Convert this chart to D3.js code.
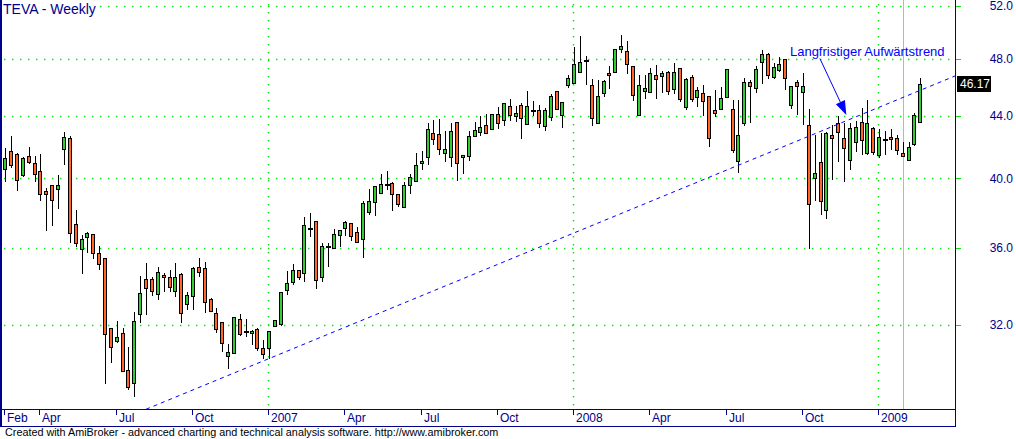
<!DOCTYPE html>
<html><head><meta charset="utf-8">
<script src="https://cdn.jsdelivr.net/npm/d3@7"></script>
<style>html,body{margin:0;padding:0;background:#fff;} svg{display:block;}</style>
</head><body>
<svg id="chart" width="1016" height="439"></svg>
<script>
// ---- data (weekly bars, dated by week's last trading day) ----
const firstWeek = "2006-02-24";
const opens = [40.56,41.69,41.50,40.23,41.37,40.93,40.44,39.24,39.58,39.34,41.81,42.52,37.31,35.91,36.60,36.74,35.69,35.42,31.84,31.24,
31.60,29.88,29.31,32.52,34.30,34.30,33.57,34.53,34.43,33.71,34.61,33.02,33.44,34.94,34.88,33.27,32.57,32.13,30.52,30.65,
32.28,31.73,31.60,31.79,30.89,30.89,31.96,32.05,33.77,34.18,34.77,34.63,37.10,37.47,34.45,36.09,35.99,36.72,37.12,37.35,
36.85,36.46,38.02,38.57,39.10,39.65,39.71,39.04,38.27,39.58,39.84,40.95,41.30,42.85,42.78,41.56,41.34,43.59,41.30,41.40,
42.67,42.95,43.37,43.10,44.11,43.75,44.66,44.01,44.73,43.44,44.39,44.39,43.35,43.95,45.69,44.04,46.10,46.23,47.06,47.90,
46.10,43.54,45.53,46.97,47.01,48.68,48.55,47.47,44.03,45.67,45.60,46.80,46.75,47.04,45.81,47.32,44.57,46.67,45.26,45.53,
45.35,44.39,44.43,45.26,44.43,41.06,43.55,46.29,45.89,47.75,48.37,46.71,47.18,47.95,44.73,46.29,45.64,43.39,40.01,41.01,
38.12,42.74,43.50,42.52,41.14,42.27,43.57,41.56,43.17,41.45,42.48,42.62,42.52,41.56,41.14,42.16,43.57];
const highs = [41.87,42.67,41.55,41.30,41.93,41.39,41.52,39.40,39.60,40.21,42.91,42.67,38.12,36.71,36.85,36.76,36.09,35.45,31.86,32.21,
31.84,30.97,32.66,34.50,35.15,34.43,34.94,34.62,34.79,35.15,34.63,33.65,34.94,35.42,35.21,33.32,32.82,32.15,31.10,32.40,
32.53,32.28,31.74,31.87,31.28,31.72,32.26,33.66,34.74,35.10,34.79,37.70,37.93,37.49,36.24,36.24,37.03,36.98,37.51,37.37,
37.13,38.67,39.36,39.54,40.27,40.46,39.80,39.06,39.80,40.27,41.56,41.70,43.50,43.72,43.79,42.97,43.50,43.61,41.45,42.97,
43.56,44.00,44.11,44.13,44.57,44.86,45.14,44.68,44.84,45.69,45.00,44.73,44.51,45.49,45.71,44.95,46.82,48.85,49.68,48.19,
46.51,46.46,46.46,47.47,48.72,49.76,49.31,47.49,46.82,46.82,47.32,47.54,47.07,47.11,47.66,47.34,46.58,46.82,45.95,46.10,
45.37,45.76,45.99,47.24,45.07,45.07,46.64,46.46,47.43,48.66,48.39,47.69,48.14,47.97,46.06,46.46,46.97,44.45,42.74,42.85,
42.91,43.39,43.99,43.55,43.55,43.62,44.51,45.07,43.24,43.10,43.00,43.10,42.74,42.27,42.31,44.18,46.64];
const lows = [39.80,40.62,39.26,40.10,40.90,39.80,38.67,36.94,37.22,38.20,40.83,36.27,36.05,34.61,35.70,35.37,34.79,29.27,30.22,31.14,
29.83,28.99,28.67,32.11,32.50,33.45,33.24,33.66,33.66,33.37,32.11,32.74,32.74,34.43,32.60,32.62,31.60,30.70,29.91,30.63,
31.47,31.44,31.05,30.74,30.38,30.38,31.92,31.97,33.52,34.00,34.27,34.15,36.60,33.80,34.17,34.97,35.94,36.03,36.66,36.38,
36.27,35.46,37.83,37.79,39.08,39.30,38.08,38.27,38.25,39.04,39.82,40.52,40.83,42.10,41.45,41.04,40.73,39.86,40.27,41.08,
42.62,42.67,42.84,43.06,43.13,43.33,43.68,43.57,42.48,43.42,44.00,43.17,43.02,43.68,44.42,43.19,45.87,46.21,46.94,46.12,
43.35,43.52,45.30,45.83,46.99,48.40,46.87,45.03,43.96,45.14,45.53,45.14,45.58,45.41,45.46,44.90,44.39,44.96,44.61,44.00,
41.99,43.91,44.39,45.24,41.60,40.31,43.32,43.54,45.53,46.18,46.52,46.52,47.06,45.76,44.45,44.08,43.40,35.91,38.67,37.82,
37.62,39.90,41.04,39.80,40.52,41.63,41.45,41.45,41.45,41.24,41.45,41.77,41.45,41.38,41.12,42.03,43.55];
const closes = [41.24,40.81,39.88,41.24,41.04,40.25,39.04,39.04,38.69,39.58,42.58,36.79,36.25,36.46,36.79,35.72,35.13,31.55,30.97,31.40,
29.85,29.14,32.19,33.62,33.87,33.71,34.70,34.40,33.93,34.41,32.57,33.49,34.88,34.70,33.12,32.67,31.79,31.12,30.70,32.38,
31.55,31.73,31.72,30.89,30.60,31.71,32.24,33.65,34.09,34.77,34.43,37.24,37.10,34.25,36.09,36.09,36.75,36.96,37.41,36.66,
36.33,38.51,38.65,39.52,39.65,39.65,39.04,38.47,39.58,40.07,40.81,41.09,43.10,42.46,41.81,41.81,42.99,40.93,41.43,42.67,
43.06,43.24,42.89,44.11,43.49,44.84,44.04,44.17,43.85,44.66,44.39,43.50,44.39,45.35,44.44,44.93,46.58,47.61,47.73,47.90,
43.88,45.35,46.40,46.80,48.70,48.93,47.59,45.44,46.10,45.90,46.95,46.55,46.95,45.67,47.04,45.13,46.53,45.13,45.76,45.03,
42.52,44.17,45.19,47.22,41.77,42.71,46.29,46.07,47.27,48.33,46.83,47.41,47.61,46.60,46.04,46.03,46.06,38.46,40.32,38.67,
42.85,42.52,42.91,41.87,43.17,43.24,42.41,43.50,41.63,42.62,42.48,42.48,41.77,41.40,41.99,44.07,46.17];

const xTickLabels = ["Feb","Apr","Jul","Oct","2007","Apr","Jul","Oct","2008","Apr","Jul","Oct","2009"];
const xTickDates = ["2006-02-24","2006-04-07","2006-07-07","2006-10-06","2007-01-05","2007-04-06","2007-07-06","2007-10-05","2008-01-04","2008-04-04","2008-07-04","2008-10-03","2009-01-02"];
const yearGridDates = ["2007-01-05","2008-01-04","2009-01-02"];
const yTicks = [32,36,40,44,48,52];
const yTickLabels = ["32.0","36.0","40.0","44.0","48.0","52.0"];
const trendPoints = [{date:"2006-08-11", price:28.15},{date:"2009-02-20", price:45.74}];
const selectedDate = "2009-01-30";
const annotationText = "Langfristiger Aufwärtstrend";
const arrowFrom = {bar:138.9, price:48.0};
const arrowTo = {bar:143.4, price:44.06};
const titleText = "TEVA - Weekly";
const footerText = "Created with AmiBroker - advanced charting and technical analysis software. http://www.amibroker.com";

// ---- setup ----
const W = 1016, H = 439;
const plot = {left:0, right:955, top:0, bottom:409};
const axisBottom = 426;
const navy = "#00008b";
const upColor = "#33cc33", downColor = "#ff6628", gridColor = "#11dd11";
const fontFam = "Liberation Sans, Arial, sans-serif";
const fmt = d3.timeFormat("%Y-%m-%d");
const parse = d3.timeParse("%Y-%m-%d");
const n = closes.length;
const weeks = d3.range(n).map(i => fmt(d3.timeDay.offset(parse(firstWeek), 7*i)));
const idxOf = d => weeks.indexOf(d);

const bars = weeks.map((w,i) => ({week:w, i, o:opens[i], h:highs[i], l:lows[i], c:closes[i]}));

const x = d3.scaleLinear().domain([-0.5, n - 0.5]).range([2.37, 2.37 + n*5.865]);
const y = d3.scaleLog().domain([28.16, 52.48]).range([plot.bottom, plot.top]);

const svg = d3.select("#chart");
svg.append("rect").attr("width",W).attr("height",H).attr("fill","#fff");

svg.append("defs").append("clipPath").attr("id","clip")
  .append("rect").attr("x",plot.left).attr("y",plot.top).attr("width",plot.right-plot.left).attr("height",plot.bottom-plot.top);

// grid
const grid = svg.append("g");
grid.selectAll("line.h").data(yTicks).join("line")
  .attr("x1",4).attr("x2",plot.right)
  .attr("y1",d=>Math.round(y(d))+0.5).attr("y2",d=>Math.round(y(d))+0.5)
  .attr("stroke",gridColor).attr("stroke-width",1.4).attr("stroke-dasharray","1.4,6.6");
grid.selectAll("line.v").data(yearGridDates).join("line")
  .attr("x1",d=>Math.round(x(idxOf(d))-1)+0.5).attr("x2",d=>Math.round(x(idxOf(d))-1)+0.5)
  .attr("y1",4).attr("y2",plot.bottom)
  .attr("stroke",gridColor).attr("stroke-width",1.4).attr("stroke-dasharray","1.4,6.6");

// selected bar line
const si = idxOf(selectedDate);
svg.append("line").attr("x1",Math.round(x(si))+0.5).attr("x2",Math.round(x(si))+0.5)
  .attr("y1",plot.top).attr("y2",plot.bottom).attr("stroke","#a8b0ff").attr("stroke-width",1)
  .attr("shape-rendering","crispEdges");

// candles
const cg = svg.append("g").attr("clip-path","url(#clip)").attr("shape-rendering","crispEdges");
const cand = cg.selectAll("g.c").data(bars).join("g");
cand.append("line")
  .attr("x1",d=>Math.round(x(d.i))+0.5).attr("x2",d=>Math.round(x(d.i))+0.5)
  .attr("y1",d=>y(d.h)).attr("y2",d=>y(d.l)).attr("stroke","#000").attr("stroke-width",1);
cand.filter(d=>d.o!==d.c).append("rect")
  .attr("x",d=>Math.round(x(d.i))-1.5).attr("width",3)
  .attr("y",d=>Math.round(y(Math.max(d.o,d.c)))+0.5)
  .attr("height",d=>Math.max(1,Math.round(y(Math.min(d.o,d.c)))-Math.round(y(Math.max(d.o,d.c)))))
  .attr("fill",d=>d.c>d.o?upColor:downColor).attr("stroke","#000").attr("stroke-width",1);
cand.filter(d=>d.o===d.c).append("line")
  .attr("x1",d=>Math.round(x(d.i))-2).attr("x2",d=>Math.round(x(d.i))+3)
  .attr("y1",d=>Math.round(y(d.c))+0.5).attr("y2",d=>Math.round(y(d.c))+0.5)
  .attr("stroke","#000").attr("stroke-width",2);

// trend line (straight on log chart), extended to right edge
const tp = trendPoints.map(p=>({px:x(idxOf(p.date)), py:y(p.price)}));
const slope = (tp[1].py-tp[0].py)/(tp[1].px-tp[0].px);
svg.append("line").attr("clip-path","url(#clip)")
  .attr("x1",tp[0].px).attr("y1",tp[0].py)
  .attr("x2",plot.right).attr("y2",tp[0].py+slope*(plot.right-tp[0].px))
  .attr("stroke","#0000ff").attr("stroke-width",1).attr("stroke-dasharray","4,4");

// annotation arrow
const ax1 = x(arrowFrom.bar), ay1 = y(arrowFrom.price), ax2 = x(arrowTo.bar), ay2 = y(arrowTo.price);
const len = Math.hypot(ax2-ax1, ay2-ay1), ux=(ax2-ax1)/len, uy=(ay2-ay1)/len;
const bx = ax2-14*ux, by = ay2-14*uy;
svg.append("line").attr("x1",ax1).attr("y1",ay1).attr("x2",bx).attr("y2",by).attr("stroke","#0000ff").attr("stroke-width",1);
svg.append("path").attr("d",`M${ax2},${ay2}L${bx-5*uy},${by+5*ux}L${bx+5*uy},${by-5*ux}Z`).attr("fill","#0000ff");
svg.append("text").attr("x",ax1-30).attr("y",ay1-3).attr("font-family",fontFam)
  .attr("font-size",13).attr("fill","#0000ff").text(annotationText);

// frame and axes
const frame = svg.append("g").attr("shape-rendering","crispEdges");
frame.append("line").attr("x1",0.75).attr("x2",0.75).attr("y1",0).attr("y2",axisBottom).attr("stroke",navy).attr("stroke-width",1.5);
frame.append("line").attr("x1",plot.right+0.5).attr("x2",plot.right+0.5).attr("y1",0).attr("y2",axisBottom+0.5).attr("stroke",navy);
frame.append("line").attr("x1",0).attr("x2",plot.right+1).attr("y1",plot.bottom+0.5).attr("y2",plot.bottom+0.5).attr("stroke",navy);
frame.append("line").attr("x1",0).attr("x2",plot.right+1).attr("y1",axisBottom+0.5).attr("y2",axisBottom+0.5).attr("stroke",navy);

// y axis (right)
const ya = svg.append("g");
ya.selectAll("line").data(yTicks).join("line")
  .attr("x1",plot.right+1).attr("x2",plot.right+6)
  .attr("y1",d=>Math.round(y(d))+0.5).attr("y2",d=>Math.round(y(d))+0.5)
  .attr("stroke",gridColor).attr("shape-rendering","crispEdges");
ya.selectAll("text").data(yTicks).join("text")
  .attr("x",1013).attr("y",d=>y(d)).attr("dy","0.35em").attr("text-anchor","end")
  .attr("font-family",fontFam).attr("font-size",12).attr("fill",navy)
  .text((d,i)=>yTickLabels[i]);

// last price box
const lastY = y(closes[n-1]);
svg.append("rect").attr("x",957).attr("y",Math.round(lastY)-8).attr("width",34).attr("height",16).attr("fill","#000");
svg.append("text").attr("x",960).attr("y",lastY).attr("dy","0.36em").attr("font-family",fontFam)
  .attr("font-size",12).attr("fill","#fff").text(closes[n-1].toFixed(2));

// x axis
const xa = svg.append("g");
xa.selectAll("line").data(xTickDates).join("line")
  .attr("x1",d=>Math.round(x(idxOf(d))-1)+0.5).attr("x2",d=>Math.round(x(idxOf(d))-1)+0.5)
  .attr("y1",plot.bottom+1).attr("y2",plot.bottom+6).attr("stroke",navy).attr("shape-rendering","crispEdges");
xa.selectAll("text").data(xTickDates).join("text")
  .attr("x",d=>Math.round(x(idxOf(d))-1)+3).attr("y",422)
  .attr("font-family",fontFam).attr("font-size",12).attr("fill",navy)
  .text((d,i)=>xTickLabels[i]);

// title
svg.append("rect").attr("x",2).attr("y",0).attr("width",98).attr("height",16).attr("fill","#fff");
svg.append("text").attr("x",3).attr("y",14).attr("font-family",fontFam)
  .attr("font-size",14).attr("fill",navy).text(titleText);

// footer
svg.append("text").attr("x",5).attr("y",436).attr("font-family",fontFam)
  .attr("font-size",10.8).attr("fill","#000").text(footerText);
</script>
</body></html>
